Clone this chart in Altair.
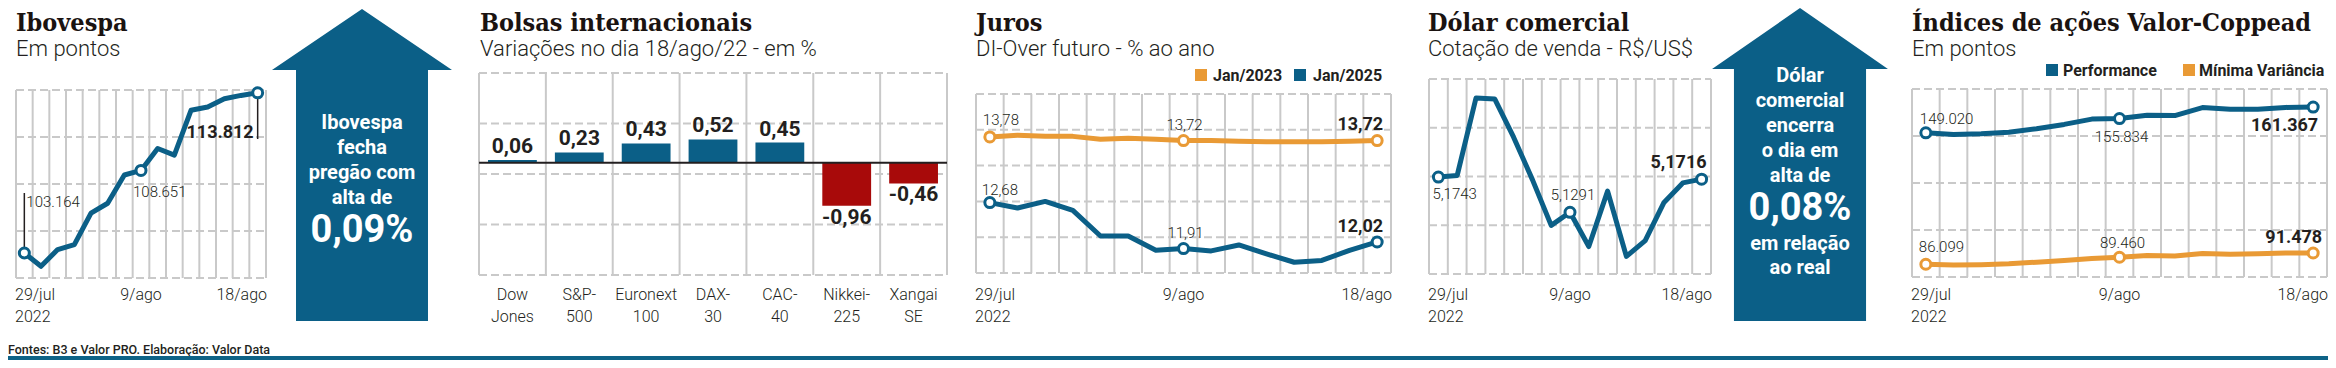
import altair as alt
import pandas as pd

# ---------------- data ----------------
dates = ["29/jul", "1/ago", "2/ago", "3/ago", "4/ago", "5/ago", "8/ago", "9/ago",
         "10/ago", "11/ago", "12/ago", "15/ago", "16/ago", "17/ago", "18/ago"]
year = "2022"

ibovespa = [103164, 102280, 103390, 103720, 105810, 106470, 108350, 108651,
            110110, 109670, 112650, 112870, 113420, 113640, 113812]
ibov_grid = [101500, 104625, 107750, 110875, 114000]

bolsas_l1 = ["Dow", "S&P-", "Euronext", "DAX-", "CAC-", "Nikkei-", "Xangai"]
bolsas_l2 = ["Jones", "500", "100", "30", "40", "225", "SE"]
bolsas_var = [0.06, 0.23, 0.43, 0.52, 0.45, -0.96, -0.46]
bolsas_grid = [-2.5, -1.375, -0.25, 0.875, 2.0]

juros_jan23 = [13.78, 13.81, 13.79, 13.79, 13.74, 13.76, 13.74, 13.72,
               13.72, 13.71, 13.70, 13.70, 13.70, 13.71, 13.72]
juros_jan25 = [12.68, 12.59, 12.70, 12.55, 12.12, 12.12, 11.88, 11.91,
               11.87, 11.97, 11.82, 11.68, 11.71, 11.88, 12.02]
juros_grid = [11.5, 12.1, 12.7, 13.3, 13.9, 14.5]

dolar = [5.1743, 5.1764, 5.2756, 5.2743, 5.2254, 5.1710, 5.1124, 5.1291,
         5.0852, 5.1563, 5.0726, 5.0927, 5.1417, 5.1668, 5.1716]
dolar_grid = [5.05, 5.1125, 5.175, 5.2375, 5.30]

performance = [149020, 148210, 148540, 149340, 150960, 153050, 155600, 155834,
               157410, 157300, 161120, 160310, 160310, 161200, 161367]
minima_var = [86099, 85700, 85900, 86300, 87100, 87900, 88800, 89460,
              90300, 90000, 91200, 90900, 91100, 91500, 91478]
coppead_grid = [80000, 102500, 125000, 147500, 170000]

# ---------------- style ----------------
OX, OY = 8, 8
W, H = 2320, 352
BLUE = "#0b5f87"
ORANGE = "#e99a35"
RED = "#a80a0a"
GRID = "#c9c9c9"
INK = "#231f20"
SANS = "Roboto"
SERIF = "DejaVu Serif Condensed, DejaVu Serif"

FMT_THOUS = "replace(format(datum.v, ',d'), ',', '.')"
FMT_2 = "replace(replace(format(datum.v, '.2f'), '.', ','), '\u2212', '-')"
FMT_4 = "replace(format(datum.v, '.4f'), '.', ',')"

one = pd.DataFrame({"k": [0]})
layers = []


def text_at(x, y, txt, size, weight="normal", font=SANS, color=INK,
            align="left", baseline="alphabetic", lh=None):
    kw = dict(text=txt, fontSize=size, fontWeight=weight, font=font, color=color,
              align=align, baseline=baseline)
    if lh:
        kw["lineHeight"] = lh
    return alt.Chart(one).mark_text(**kw).encode(x=alt.value(x - OX), y=alt.value(y - OY))


def titles(x, title, subtitle):
    layers.append(text_at(x, 31, title, 25, weight="bold", font=SERIF, color="#1a1311"))
    layers.append(text_at(x, 56, subtitle, 22, weight=300))


def line_panel(box, ydom, ygrid, series, leaders=()):
    x0, x1, y0, y1 = box
    xs = alt.Scale(domain=[-0.5, 14.5], range=[x0 - OX, x1 - OX], nice=False, zero=False)
    ys = alt.Scale(domain=ydom, range=[y1 - OY, y0 - OY], nice=False, zero=False)
    X = alt.X("i:Q", scale=xs, axis=None)
    Y = alt.Y("v:Q", scale=ys, axis=None)
    vg = pd.DataFrame({"i": [k - 0.5 for k in range(16)]})
    layers.append(alt.Chart(vg).mark_rule(color=GRID, strokeWidth=2).encode(
        x=X, y=alt.value(y0 - OY), y2=alt.value(y1 - OY)))
    hg = pd.DataFrame({"v": ygrid})
    layers.append(alt.Chart(hg).mark_rule(color=GRID, strokeWidth=2, strokeDash=[8, 4]).encode(
        y=Y, x=alt.value(x0 - OX), x2=alt.value(x1 - OX)))
    dfs = []
    for vals, color, fmt, labs in series:
        df = pd.DataFrame({"i": list(range(len(vals))), "v": vals})
        dfs.append(df)
        layers.append(alt.Chart(df).mark_line(color=color, strokeWidth=5, strokeJoin="round").encode(x=X, y=Y))
    for (idx, y2) in leaders:
        df = dfs[0]
        layers.append(alt.Chart(df).transform_filter(f"datum.i == {idx}").mark_rule(
            color=INK, strokeWidth=1.5).encode(x=X, y=Y, y2=alt.value(y2 - OY)))
    for df, (vals, color, fmt, labs) in zip(dfs, series):
        layers.append(alt.Chart(df).transform_filter("datum.i == 0 || datum.i == 7 || datum.i == 14").mark_circle(
            size=100, fill="white", stroke=color, strokeWidth=3, opacity=1).encode(x=X, y=Y))
        for (idx, align, dx, dy, bold) in labs:
            layers.append(alt.Chart(df).transform_filter(f"datum.i == {idx}").transform_calculate(t=fmt).mark_text(
                align=align, dx=dx, dy=dy, baseline="alphabetic", font=SANS,
                fontSize=18 if bold else 15, fontWeight="bold" if bold else 300, color=INK
            ).encode(x=X, y=Y, text="t:N"))
    # date labels
    ddf = pd.DataFrame({"i": list(range(len(dates))), "d": dates})
    layers.append(text_at(x0 - 1, 300, dates[0], 16, weight=300))
    layers.append(text_at(x0 - 1, 322, year, 16, weight=300))
    layers.append(alt.Chart(ddf).transform_filter("datum.i == 7").mark_text(
        align="center", baseline="alphabetic", font=SANS, fontSize=16, fontWeight=300, color=INK
    ).encode(x=X, y=alt.value(300 - OY), text="d:N"))
    layers.append(text_at(x1 + 1, 300, dates[14], 16, weight=300, align="right"))


def arrow(cx, tip, base, bottom, head_half, shaft_half):
    half = (bottom - tip) / 2.0
    cy = (bottom + tip) / 2.0
    hb = (base - cy) / half
    hh = head_half / half
    sh = shaft_half / half
    path = (f"M0,-1 L{hh:.3f},{hb:.3f} L{sh:.3f},{hb:.3f} L{sh:.3f},1 "
            f"L{-sh:.3f},1 L{-sh:.3f},{hb:.3f} L{-hh:.3f},{hb:.3f} Z")
    return alt.Chart(one).mark_point(shape=path, size=(2 * half) ** 2, filled=True, fill=BLUE,
                                     strokeWidth=0, opacity=1).encode(
        x=alt.value(cx - OX), y=alt.value(cy - OY))


# ---------------- Panel 1: Ibovespa ----------------
titles(16, "Ibovespa", "Em pontos")
line_panel((16, 266, 90, 278), [101500, 114000], ibov_grid,
           [(ibovespa, BLUE, FMT_THOUS,
             [(0, "left", 2, -46, False), (7, "left", -8, 27, False), (14, "right", -4, 45, True)])],
           leaders=[(0, 193), (14, 139)])

layers.append(arrow(362, 9, 70, 321, 90, 66))
layers.append(text_at(362, 123, ["Ibovespa", "fecha", "pregão com", "alta de"], 20,
                      weight="bold", color="white", align="center", baseline="middle", lh=25))
layers.append(text_at(362, 231, "0,09%", 38, weight="bold", color="white", align="center", baseline="middle"))

# ---------------- Panel 2: Bolsas internacionais ----------------
titles(480, "Bolsas internacionais", "Variações no dia 18/ago/22 - em %")
bx0, bx1, by0, by1 = 479, 947, 73, 275
bdf = pd.DataFrame({"i": list(range(7)), "n1": bolsas_l1, "n2": bolsas_l2, "v": bolsas_var})
xb = alt.Scale(domain=list(range(7)), range=[bx0 - OX, bx1 - OX], paddingInner=0.27, paddingOuter=0.135)
yb = alt.Scale(domain=[-2.5, 2.0], range=[by1 - OY, by0 - OY], nice=False, zero=False)
XB = alt.X("i:O", scale=xb, axis=None)
YB = alt.Y("v:Q", scale=yb, axis=None)
xg = alt.Scale(domain=[0, 7], range=[bx0 - OX, bx1 - OX], nice=False, zero=False)
layers.append(alt.Chart(pd.DataFrame({"g": list(range(8))})).mark_rule(color=GRID, strokeWidth=2).encode(
    x=alt.X("g:Q", scale=xg, axis=None), y=alt.value(by0 - OY), y2=alt.value(by1 - OY)))
layers.append(alt.Chart(pd.DataFrame({"v": bolsas_grid})).mark_rule(
    color=GRID, strokeWidth=2, strokeDash=[8, 4]).encode(
    y=YB, x=alt.value(bx0 - OX), x2=alt.value(bx1 - OX)))
layers.append(alt.Chart(bdf).mark_bar(opacity=1).encode(
    x=XB, y=YB, y2=alt.Y2Datum(0),
    color=alt.when(alt.datum.v > 0).then(alt.value(BLUE)).otherwise(alt.value(RED))))
layers.append(alt.Chart(pd.DataFrame({"v": [0]})).mark_rule(color=INK, strokeWidth=2).encode(
    y=YB, x=alt.value(bx0 - OX), x2=alt.value(bx1 - OX)))
layers.append(alt.Chart(bdf).transform_filter("datum.v > 0").transform_calculate(t=FMT_2).mark_text(
    baseline="alphabetic", dy=-7, font=SANS, fontSize=21, fontWeight="bold", color=INK).encode(
    x=XB, y=YB, text="t:N"))
layers.append(alt.Chart(bdf).transform_filter("datum.v < 0").transform_calculate(t=FMT_2).mark_text(
    baseline="alphabetic", dy=18, font=SANS, fontSize=21, fontWeight="bold", color=INK).encode(
    x=XB, y=YB, text="t:N"))
layers.append(alt.Chart(bdf).mark_text(baseline="alphabetic", font=SANS, fontSize=16, fontWeight=300,
                                       color=INK).encode(x=XB, y=alt.value(300 - OY), text="n1:N"))
layers.append(alt.Chart(bdf).mark_text(baseline="alphabetic", font=SANS, fontSize=16, fontWeight=300,
                                       color=INK).encode(x=XB, y=alt.value(322 - OY), text="n2:N"))

# ---------------- Panel 3: Juros ----------------
titles(976, "Juros", "DI-Over futuro - % ao ano")
layers.append(alt.Chart(one).mark_square(size=144, color=ORANGE, opacity=1).encode(
    x=alt.value(1201 - OX), y=alt.value(75 - OY)))
layers.append(text_at(1213, 81, "Jan/2023", 16, weight="bold"))
layers.append(alt.Chart(one).mark_square(size=144, color=BLUE, opacity=1).encode(
    x=alt.value(1300 - OX), y=alt.value(75 - OY)))
layers.append(text_at(1313, 81, "Jan/2025", 16, weight="bold"))
line_panel((976, 1391, 94, 273), [11.5, 14.5], juros_grid,
           [(juros_jan23, ORANGE, FMT_2,
             [(0, "left", -7, -12, False), (7, "center", 1, -11, False), (14, "right", 6, -11, True)]),
            (juros_jan25, BLUE, FMT_2,
             [(0, "left", -8, -8, False), (7, "center", 2, -11, False), (14, "right", 6, -10, True)])])

# ---------------- Panel 4: Dólar comercial ----------------
titles(1428, "Dólar comercial", "Cotação de venda - R$/US$")
line_panel((1429, 1711, 79, 274), [5.05, 5.30], dolar_grid,
           [(dolar, BLUE, FMT_4,
             [(0, "left", -6, 22, False), (7, "center", 3, -12, False), (14, "right", 5, -11, True)])])

layers.append(arrow(1800, 8, 69, 321, 88, 66))
layers.append(text_at(1800, 76, ["Dólar", "comercial", "encerra", "o dia em", "alta de"], 20,
                      weight="bold", color="white", align="center", baseline="middle", lh=25))
layers.append(text_at(1800, 209, "0,08%", 38, weight="bold", color="white", align="center", baseline="middle"))
layers.append(text_at(1800, 244, ["em relação", "ao real"], 20,
                      weight="bold", color="white", align="center", baseline="middle", lh=24))

# ---------------- Panel 5: Índices Valor-Coppead ----------------
titles(1912, "Índices de ações Valor-Coppead", "Em pontos")
layers.append(alt.Chart(one).mark_square(size=144, color=BLUE, opacity=1).encode(
    x=alt.value(2052 - OX), y=alt.value(70 - OY)))
layers.append(text_at(2063, 76, "Performance", 16, weight="bold"))
layers.append(alt.Chart(one).mark_square(size=144, color=ORANGE, opacity=1).encode(
    x=alt.value(2189 - OX), y=alt.value(70 - OY)))
layers.append(text_at(2199, 76, "Mínima Variância", 16, weight="bold"))
line_panel((1912, 2327, 89, 277), [80000, 170000], coppead_grid,
           [(performance, BLUE, FMT_THOUS,
             [(0, "left", -6, -9, False), (7, "center", 2, 23, False), (14, "right", 5, 24, True)]),
            (minima_var, ORANGE, FMT_THOUS,
             [(0, "left", -7, -12, False), (7, "center", 3, -9, False), (14, "right", 9, -10, True)])])

# ---------------- footer ----------------
layers.append(text_at(8, 354, "Fontes: B3 e Valor PRO. Elaboração: Valor Data", 12.5, font=SANS, weight=500))
layers.append(alt.Chart(one).mark_rect(color="#0e6387", opacity=1).encode(
    x=alt.value(0), x2=alt.value(W), y=alt.value(H - 4), y2=alt.value(H)))

chart = alt.layer(*layers).resolve_scale(x="independent", y="independent").properties(
    width=W, height=H, autosize=alt.AutoSizeParams(type="none"), padding=0, background="white"
).configure_view(stroke=None)

chart.save("out.html", embed_options={"renderer": "svg", "actions": False})
